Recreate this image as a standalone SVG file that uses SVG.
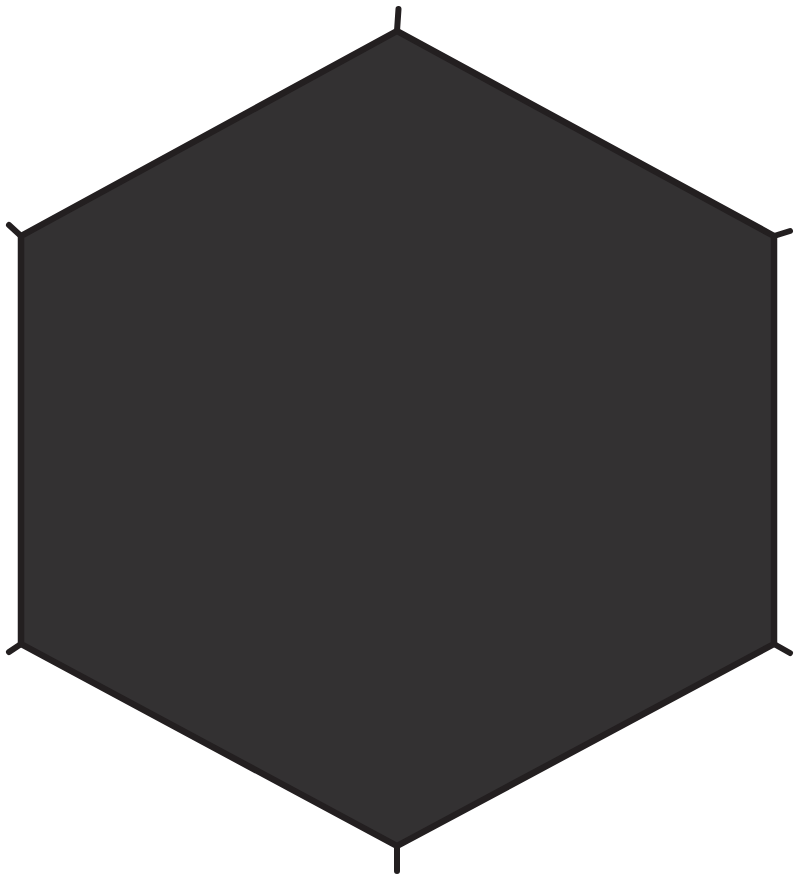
<svg xmlns="http://www.w3.org/2000/svg" width="800" height="880" viewBox="0 0 800 880">
<style>
.hex{fill:#333132;stroke:#231f20;stroke-width:6.5;stroke-linejoin:round}
.tab{stroke:#231f20;stroke-width:6;stroke-linecap:round;fill:none}
</style>
<rect width="800" height="880" fill="#ffffff"/>
<g id="tabs">
<line class="tab" x1="397" y1="31" x2="398.5" y2="9"/>
<line class="tab" x1="774" y1="236" x2="790" y2="231"/>
<line class="tab" x1="21" y1="236" x2="9" y2="225"/>
<line class="tab" x1="21" y1="644" x2="9" y2="652"/>
<line class="tab" x1="774" y1="644" x2="790" y2="653"/>
<line class="tab" x1="397" y1="846" x2="397" y2="871"/>
</g>
<g id="hexagon">
<polygon class="hex" points="397,31 774,236 774,644 397,846 21,644 21,236"/>
</g>
</svg>
